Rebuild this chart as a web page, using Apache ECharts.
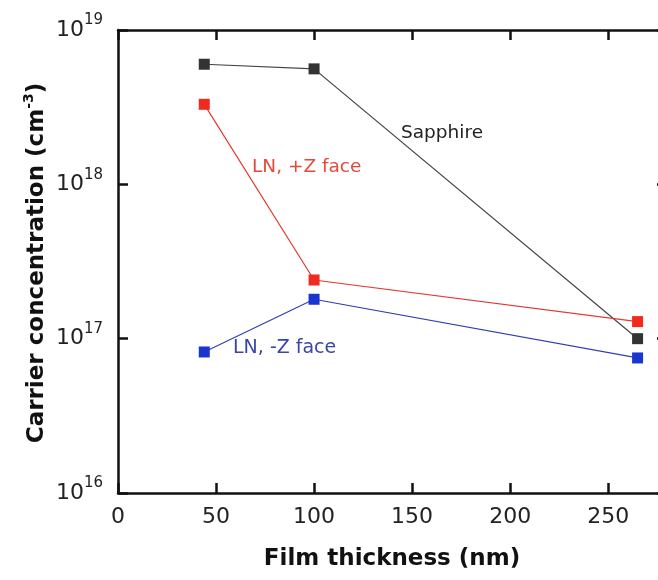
<!DOCTYPE html>
<html>
<head>
<meta charset="utf-8">
<script src="https://cdn.jsdelivr.net/npm/echarts@6/dist/echarts.min.js"></script>
<style>
  html, body { margin: 0; padding: 0; background: #ffffff; overflow: hidden; width: 658px; height: 580px; }
  /* the drawing surface is a little wider than the window so the right frame edge falls just outside it */
  #chart { width: 680px; height: 580px; }
</style>
</head>
<body>
<div id="chart"></div>
<script>
// Film thickness (nm) of each sample
const thickness = [44, 100, 265];
// Carrier concentration (cm^-3) per substrate
const sapphire = [6.0e18, 5.6e18, 1.0e17];
const lnPlusZ = [3.3e18, 2.4e17, 1.29e17];
const lnMinusZ = [8.2e16, 1.8e17, 7.5e16];
// Axis tick labels
const xTicks = [0, 50, 100, 150, 200, 250];
const yDecades = [16, 17, 18, 19];

const FONT = '"DejaVu Sans", Verdana, sans-serif';

function pairs(ys) {
  return thickness.map((x, i) => [x, ys[i]]);
}

// Frame lines stay on the grid edges (no snapping to the x = 0 line)
const axisLine = { show: true, onZero: false, lineStyle: { color: '#111', width: 2.5 } };
const axisTick = { show: true, inside: true, length: 10, lineStyle: { color: '#111', width: 2.5 } };

const xCommon = {
  type: 'value', min: 0, max: 280, interval: 50,
  axisLine, axisTick, splitLine: { show: false }
};
const yCommon = {
  type: 'log', logBase: 10, min: 1e16, max: 1e19,
  axisLine, axisTick, splitLine: { show: false }, minorTick: { show: false }
};

function seriesOf(name, ys, lineColor, markColor) {
  return {
    name, type: 'line', data: pairs(ys),
    symbol: 'rect', symbolSize: 11,
    itemStyle: { color: markColor },
    lineStyle: { color: lineColor, width: 1.2 },
    emphasis: { disabled: true },
    animation: false
  };
}

const chart = echarts.init(document.getElementById('chart'));
chart.setOption({
  backgroundColor: '#ffffff',
  animation: false,
  grid: { left: 118, top: 30, right: 13, bottom: 87, containLabel: false },
  xAxis: [
    Object.assign({}, xCommon, {
      position: 'bottom',
      axisLabel: {
        show: true, margin: 13, color: '#222', fontSize: 22, fontFamily: FONT,
        showMaxLabel: false,
        formatter: v => (xTicks.indexOf(v) >= 0 ? String(v) : '')
      }
    }),
    Object.assign({}, xCommon, { position: 'top', axisLabel: { show: false } })
  ],
  yAxis: [
    Object.assign({}, yCommon, {
      position: 'left',
      axisLabel: {
        show: true, margin: 15, color: '#222', fontFamily: FONT,
        formatter: v => {
          const e = Math.round(Math.log10(v));
          return yDecades.indexOf(e) >= 0 ? '{b|10}{s|' + e + '}' : '';
        },
        rich: {
          b: { fontSize: 22, lineHeight: 34, fontFamily: FONT, color: '#222' },
          s: { fontSize: 15, lineHeight: 15, verticalAlign: 'top', fontFamily: FONT, color: '#222' }
        }
      }
    }),
    Object.assign({}, yCommon, { position: 'right', axisLabel: { show: false } })
  ],
  series: [
    seriesOf('Sapphire', sapphire, '#444444', '#333333'),
    seriesOf('LN, +Z face', lnPlusZ, '#e23a30', '#f22a1e'),
    seriesOf('LN, -Z face', lnMinusZ, '#3040b0', '#1a35d0')
  ],
  graphic: [
    {
      type: 'text', x: 392, y: 559,
      style: {
        text: 'Film thickness (nm)', align: 'center', verticalAlign: 'middle',
        font: 'bold 23px ' + FONT, fill: '#111'
      }
    },
    {
      type: 'text', x: 37, y: 263, rotation: Math.PI / 2,
      style: {
        text: '{t|Carrier concentration (cm}{s|-3}{t|)}', align: 'center', verticalAlign: 'middle',
        rich: {
          t: { fontSize: 23, fontWeight: 'bold', fontFamily: FONT, fill: '#111', lineHeight: 30 },
          s: { fontSize: 14, fontWeight: 'bold', fontFamily: FONT, fill: '#111', lineHeight: 14, verticalAlign: 'top' }
        }
      }
    },
    {
      type: 'text', x: 401, y: 133,
      style: { text: 'Sapphire', align: 'left', verticalAlign: 'middle', font: '18.5px ' + FONT, fill: '#222' }
    },
    {
      type: 'text', x: 252, y: 167,
      style: { text: 'LN, +Z face', align: 'left', verticalAlign: 'middle', font: '18.5px ' + FONT, fill: '#e24a3c' }
    },
    {
      type: 'text', x: 233, y: 348,
      style: { text: 'LN, -Z face', align: 'left', verticalAlign: 'middle', font: '19px ' + FONT, fill: '#3a45a8' }
    }
  ]
});
</script>
</body>
</html>
